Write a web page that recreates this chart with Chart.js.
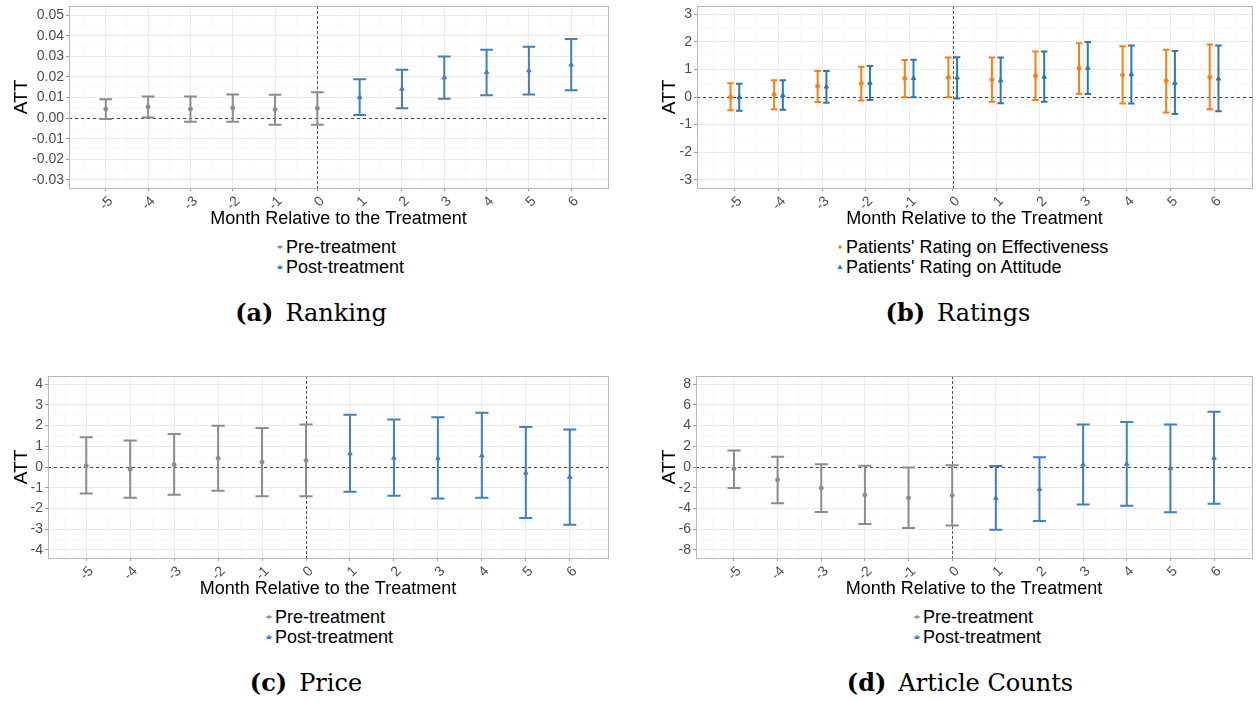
<!doctype html>
<html>
<head>
<meta charset="utf-8">
<title>ATT by month relative to treatment</title>
<script src="https://cdn.jsdelivr.net/npm/chart.js@4.4.0/dist/chart.umd.min.js"></script>
<style>
  body { margin: 0; background: #fff; width: 1257px; height: 702px; position: relative; overflow: hidden;
         font-family: "Liberation Sans", Arial, sans-serif; }
  canvas { position: absolute; }
  .legend { position: absolute; font-size: 18px; line-height: 20px; color: #000; white-space: nowrap; }
  .legend svg { vertical-align: middle; margin-right: 2px; position: relative; top: -1px; }
  .cap { position: absolute; width: 400px; text-align: center; font-family: "DejaVu Serif", serif;
         font-size: 24px; line-height: 30px; color: #000; }
  .cap b { margin-right: 12px; }
</style>
</head>
<body>

<canvas id="chartA" width="620" height="232" style="left:0;top:0"></canvas>
<canvas id="chartB" width="627" height="232" style="left:630px;top:0"></canvas>
<canvas id="chartC" width="620" height="232" style="left:0;top:370px"></canvas>
<canvas id="chartD" width="627" height="232" style="left:630px;top:370px"></canvas>

<div class="legend" style="left:276px;top:237px">
  <div><svg width="8" height="8"><line x1="1" y1="4" x2="7" y2="4" stroke="#8c8c8c"/><circle cx="4" cy="4" r="1.7" fill="#8c8c8c"/></svg>Pre-treatment</div>
  <div><svg width="8" height="8"><line x1="1" y1="4" x2="7" y2="4" stroke="#3f80c0"/><polygon points="4,1.5 6.5,6 1.5,6" fill="#3f80c0"/></svg>Post-treatment</div>
</div>
<div class="legend" style="left:836px;top:237px">
  <div><svg width="8" height="8"><circle cx="4" cy="4" r="1.8" fill="#ff7f0e"/></svg>Patients' Rating on Effectiveness</div>
  <div><svg width="8" height="8"><polygon points="4,1.5 6.5,6 1.5,6" fill="#2a78b6"/></svg>Patients' Rating on Attitude</div>
</div>
<div class="legend" style="left:265px;top:607px">
  <div><svg width="8" height="8"><line x1="1" y1="4" x2="7" y2="4" stroke="#8c8c8c"/><circle cx="4" cy="4" r="1.7" fill="#8c8c8c"/></svg>Pre-treatment</div>
  <div><svg width="8" height="8"><line x1="1" y1="4" x2="7" y2="4" stroke="#3f80c0"/><polygon points="4,1.5 6.5,6 1.5,6" fill="#3f80c0"/></svg>Post-treatment</div>
</div>
<div class="legend" style="left:913px;top:607px">
  <div><svg width="8" height="8"><line x1="1" y1="4" x2="7" y2="4" stroke="#8c8c8c"/><circle cx="4" cy="4" r="1.7" fill="#8c8c8c"/></svg>Pre-treatment</div>
  <div><svg width="8" height="8"><line x1="1" y1="4" x2="7" y2="4" stroke="#3f80c0"/><polygon points="4,1.5 6.5,6 1.5,6" fill="#3f80c0"/></svg>Post-treatment</div>
</div>

<div class="cap" style="left:111px;top:298px"><b>(a)</b>Ranking</div>
<div class="cap" style="left:758px;top:298px"><b>(b)</b>Ratings</div>
<div class="cap" style="left:106px;top:668px"><b>(c)</b>Price</div>
<div class="cap" style="left:760px;top:668px"><b>(d)</b>Article Counts</div>

<script>
// month relative to the treatment
var months = [-5, -4, -3, -2, -1, 0, 1, 2, 3, 4, 5, 6];

// (a) Ranking
var rankEst = [0.0044, 0.0055, 0.0044, 0.0050, 0.0042, 0.0048, 0.0102, 0.0142, 0.0197, 0.0223, 0.0231, 0.0260];
var rankLo  = [-0.0005, 0.0003, -0.0018, -0.0018, -0.0032, -0.0032, 0.0015, 0.0048, 0.0094, 0.0111, 0.0115, 0.0135];
var rankHi  = [0.0092, 0.0105, 0.0105, 0.0115, 0.0113, 0.0126, 0.0189, 0.0235, 0.0300, 0.0332, 0.0347, 0.0384];
var rankTicks = [-0.03, -0.02, -0.01, 0, 0.01, 0.02, 0.03, 0.04, 0.05];

// (b) Ratings
var effEst = [0.00, 0.09, 0.39, 0.49, 0.67, 0.71, 0.63, 0.77, 1.04, 0.80, 0.59, 0.72];
var effLo  = [-0.48, -0.44, -0.18, -0.13, -0.01, -0.01, -0.17, -0.11, 0.12, -0.24, -0.56, -0.44];
var effHi  = [0.50, 0.61, 0.94, 1.10, 1.34, 1.43, 1.43, 1.65, 1.95, 1.84, 1.71, 1.90];
var attEst = [-0.01, 0.06, 0.37, 0.51, 0.68, 0.70, 0.60, 0.73, 1.05, 0.82, 0.51, 0.66];
var attLo  = [-0.50, -0.46, -0.21, -0.11, -0.01, -0.05, -0.23, -0.17, 0.11, -0.24, -0.62, -0.52];
var attHi  = [0.48, 0.61, 0.94, 1.12, 1.35, 1.44, 1.43, 1.65, 1.99, 1.87, 1.67, 1.87];
var ratingTicks = [-3, -2, -1, 0, 1, 2, 3];

// (c) Price
var priceEst = [0.06, -0.11, 0.11, 0.42, 0.24, 0.32, 0.65, 0.44, 0.42, 0.55, -0.28, -0.49];
var priceLo  = [-1.28, -1.49, -1.34, -1.15, -1.41, -1.41, -1.20, -1.39, -1.52, -1.49, -2.46, -2.79];
var priceHi  = [1.44, 1.28, 1.59, 1.99, 1.88, 2.06, 2.53, 2.30, 2.40, 2.62, 1.93, 1.81];
var priceTicks = [-4, -3, -2, -1, 0, 1, 2, 3, 4];

// (d) Article counts
var artEst = [-0.19, -1.23, -2.04, -2.69, -2.98, -2.75, -3.01, -2.14, 0.23, 0.29, -0.13, 0.87];
var artLo  = [-2.04, -3.50, -4.34, -5.50, -5.89, -5.66, -6.08, -5.21, -3.62, -3.75, -4.37, -3.56];
var artHi  = [1.59, 1.00, 0.26, 0.13, -0.06, 0.16, 0.10, 0.94, 4.11, 4.34, 4.11, 5.34];
var articleTicks = [-8, -6, -4, -2, 0, 2, 4, 6, 8];

var GREY = '#8c8c8c', BLUE = '#3f80c0', ORANGE = '#ff7f0e', BLUE2 = '#2a78b6';

Chart.defaults.font.family = '"Liberation Sans", Arial, sans-serif';
Chart.defaults.color = '#4d4d4d';

// major ticks plus minor ticks halfway between them (ggplot style grid)
function withMinor(major, lo, hi) {
  var step = major[1] - major[0];
  var out = [];
  for (var i = 0; i < major.length; i++) {
    out.push({ value: major[i], isMinor: false });
    var m = major[i] + step / 2;
    if (m >= lo && m <= hi) out.push({ value: m, isMinor: true });
  }
  var first = major[0] - step / 2;
  if (first >= lo) out.unshift({ value: first, isMinor: true });
  return out;
}

function pick(xs, est, lo, hi, keep) {
  var out = [];
  for (var i = 0; i < months.length; i++) {
    if (keep(months[i])) out.push({ x: xs[i], y: est[i], lo: lo[i], hi: hi[i] });
  }
  return out;
}

var errorBars = {
  id: 'errorBars',
  beforeDatasetsDraw: function (chart, args, opts) {
    var ctx = chart.ctx, sx = chart.scales.x, sy = chart.scales.y;
    var area = chart.chartArea;
    ctx.save();
    // dashed reference lines at zero
    ctx.strokeStyle = '#444';
    ctx.lineWidth = 1;
    ctx.setLineDash([3, 3]);
    var y0 = Math.round(sy.getPixelForValue(0)) + 0.5;
    ctx.beginPath(); ctx.moveTo(area.left, y0); ctx.lineTo(area.right, y0); ctx.stroke();
    ctx.setLineDash([3, 2]);
    var x0 = Math.round(sx.getPixelForValue(0)) + 0.5;
    ctx.strokeStyle = '#555';
    ctx.beginPath(); ctx.moveTo(x0, area.top); ctx.lineTo(x0, area.bottom); ctx.stroke();
    ctx.setLineDash([]);
    // error bars
    chart.data.datasets.forEach(function (ds) {
      ctx.strokeStyle = ds.borderColor;
      ctx.lineWidth = 2;
      ds.data.forEach(function (p) {
        var px = sx.getPixelForValue(p.x);
        var l = sx.getPixelForValue(p.x - opts.width / 2), r = sx.getPixelForValue(p.x + opts.width / 2);
        var y1 = sy.getPixelForValue(p.lo), y2 = sy.getPixelForValue(p.hi);
        ctx.beginPath();
        ctx.moveTo(px, y1); ctx.lineTo(px, y2);
        ctx.moveTo(l, y1); ctx.lineTo(r, y1);
        ctx.moveTo(l, y2); ctx.lineTo(r, y2);
        ctx.stroke();
      });
    });
    ctx.restore();
  },
  afterDraw: function (chart) {
    var a = chart.chartArea, ctx = chart.ctx;
    ctx.save();
    ctx.strokeStyle = '#b8b8b8';
    ctx.lineWidth = 1;
    ctx.strokeRect(Math.round(a.left) + 0.5, Math.round(a.top) + 0.5, Math.round(a.right - a.left), Math.round(a.bottom - a.top));
    ctx.restore();
  }
};

function makePanel(id, o) {
  var canvas = document.getElementById(id);
  var cw = canvas.width, ch = canvas.height;
  var xMin = months[0] - 0.87, xMax = months[months.length - 1] + 0.87;
  var xTicks = withMinor(months, xMin, xMax);
  var yTicks = withMinor(o.ticks, o.yMin, o.yMax);

  function gridColor(c) { return c.tick && c.tick.isMinor ? '#f6f6f6' : '#ebebeb'; }
  function tickColor(c) { return c.tick && c.tick.isMinor ? 'rgba(0,0,0,0)' : '#9a9a9a'; }

  return new Chart(canvas, {
    type: 'scatter',
    data: { datasets: o.datasets },
    plugins: [errorBars],
    options: {
      responsive: false,
      animation: false,
      layout: { padding: { left: 0, top: 6, right: cw - o.right, bottom: 0 } },
      plugins: { legend: { display: false }, tooltip: { enabled: false }, errorBars: { width: o.capWidth } },
      scales: {
        x: {
          type: 'linear', min: xMin, max: xMax,
          afterBuildTicks: function (s) { s.ticks = xTicks.map(function (t) { return { value: t.value, isMinor: t.isMinor }; }); },
          afterFit: function (s) { s.height = ch - 188; s.paddingLeft = 0; s.paddingRight = 0; },
          border: { display: false },
          grid: { color: gridColor, tickColor: tickColor, tickLength: 3, lineWidth: function (c) { return c.tick && c.tick.isMinor ? 0.7 : 1; } },
          ticks: {
            autoSkip: false, minRotation: 45, maxRotation: 45, padding: 2, labelOffset: 5,
            font: { size: 14 }, color: '#4d4d4d',
            callback: function (v, i, ticks) { return ticks[i].isMinor ? '' : String(Math.round(v)); }
          },
          title: { display: true, text: 'Month Relative to the Treatment', color: '#000', font: { size: 18 }, padding: { top: 0, bottom: 2 } }
        },
        y: {
          type: 'linear', min: o.yMin, max: o.yMax,
          afterBuildTicks: function (s) { s.ticks = yTicks.map(function (t) { return { value: t.value, isMinor: t.isMinor }; }); },
          afterFit: function (s) { s.width = o.left; s.paddingTop = 0; s.paddingBottom = 0; },
          border: { display: false },
          grid: { color: gridColor, tickColor: tickColor, tickLength: 3, lineWidth: function (c) { return c.tick && c.tick.isMinor ? 0.7 : 1; } },
          ticks: {
            autoSkip: false, padding: 2, font: { size: 14 }, color: '#4d4d4d',
            callback: function (v, i, ticks) { return ticks[i].isMinor ? '' : o.fmt(v); }
          },
          title: { display: true, text: 'ATT', color: '#000', font: { size: 19 }, padding: { top: o.titlePad, bottom: 0 } }
        }
      }
    }
  });
}

function prePost(est, lo, hi) {
  return [
    { data: pick(months, est, lo, hi, function (m) { return m <= 0; }), borderColor: GREY, backgroundColor: GREY,
      pointStyle: 'circle', pointRadius: 2, borderWidth: 1 },
    { data: pick(months, est, lo, hi, function (m) { return m > 0; }), borderColor: BLUE, backgroundColor: BLUE,
      pointStyle: 'triangle', pointRadius: 2.6, borderWidth: 1 }
  ];
}

var all = function () { return true; };
var xEff = months.map(function (m) { return m - 0.1; });
var xAtt = months.map(function (m) { return m + 0.1; });

makePanel('chartA', {
  datasets: prePost(rankEst, rankLo, rankHi),
  ticks: rankTicks, yMin: -0.034, yMax: 0.0545, left: 69, right: 608, titlePad: 10, capWidth: 0.3,
  fmt: function (v) { return (Math.abs(v) < 1e-9 ? 0 : v).toFixed(2); }
});

makePanel('chartB', {
  datasets: [
    { data: pick(xEff, effEst, effLo, effHi, all), borderColor: ORANGE, backgroundColor: ORANGE,
      pointStyle: 'circle', pointRadius: 2, borderWidth: 1 },
    { data: pick(xAtt, attEst, attLo, attHi, all), borderColor: BLUE2, backgroundColor: BLUE2,
      pointStyle: 'triangle', pointRadius: 2.6, borderWidth: 1 }
  ],
  ticks: ratingTicks, yMin: -3.3, yMax: 3.3, left: 67, right: 624, titlePad: 28, capWidth: 0.15,
  fmt: function (v) { return String(Math.round(v)); }
});

makePanel('chartC', {
  datasets: prePost(priceEst, priceLo, priceHi),
  ticks: priceTicks, yMin: -4.4, yMax: 4.4, left: 48, right: 608, titlePad: 10, capWidth: 0.3,
  fmt: function (v) { return String(Math.round(v)); }
});

makePanel('chartD', {
  datasets: prePost(artEst, artLo, artHi),
  ticks: articleTicks, yMin: -8.8, yMax: 8.8, left: 66, right: 624, titlePad: 28, capWidth: 0.3,
  fmt: function (v) { return String(Math.round(v)); }
});
</script>
</body>
</html>
